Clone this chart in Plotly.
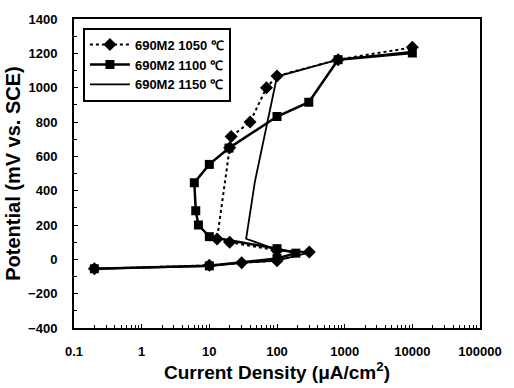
import plotly.graph_objects as go

# Polarization curves of alloy 690M2 at three solution-annealing temperatures
cd_1050 = [0.2, 10, 30, 100, 300, 100, 20, 13, 20, 21, 40, 70, 100, 800, 10000]
pot_1050 = [-55, -35, -20, -8, 42, 52, 100, 118, 650, 715, 800, 1000, 1068, 1163, 1235]

cd_1100 = [0.2, 10, 100, 190, 100, 10, 6.9, 6.3, 6.0, 10, 19.5, 100, 295, 800, 10000]
pot_1100 = [-55, -38, 5, 36, 62, 132, 200, 283, 446, 553, 648, 832, 915, 1163, 1202]

cd_1150 = [0.2, 10, 30, 100, 300, 100, 35, 47, 100, 800, 10000]
pot_1150 = [-55, -40, -20, -8, 40, 55, 120, 450, 1065, 1163, 1210]

names = ["690M2 1050 ℃", "690M2 1100 ℃", "690M2 1150 ℃"]

x_ticks = [0.1, 1, 10, 100, 1000, 10000, 100000]
x_ticktext = ["0.1", "1", "10", "100", "1000", "10000", "100000"]
y_ticks = [-400, -200, 0, 200, 400, 600, 800, 1000, 1200, 1400]

font_family = "Liberation Sans, Arial, sans-serif"

fig = go.Figure()
fig.add_trace(go.Scatter(
    x=cd_1050, y=pot_1050, name=names[0], mode="lines+markers", legendgroup="a",
    line=dict(color="black", width=2, dash="dot"),
    marker=dict(symbol="diamond", size=10, color="black"),
))
fig.add_trace(go.Scatter(
    x=cd_1100, y=pot_1100, name=names[1], mode="lines+markers", legendgroup="b",
    line=dict(color="black", width=2.5),
    marker=dict(symbol="square", size=9, color="black"),
))
fig.add_trace(go.Scatter(
    x=cd_1150, y=pot_1150, name=names[2], mode="lines", legendgroup="c",
    line=dict(color="black", width=1.8),
))

fig.update_layout(
    width=514, height=388,
    margin=dict(l=74, r=26, t=14, b=60),
    paper_bgcolor="white", plot_bgcolor="white",
    font=dict(family=font_family, color="black"),
    showlegend=True,
    legend=dict(
        x=0.022, y=0.972, xanchor="left", yanchor="top",
        bgcolor="white", bordercolor="black", borderwidth=2,
        font=dict(size=13, family=font_family, color="black", weight="bold"),
        itemwidth=40, tracegroupgap=0,
    ),
)

fig.update_xaxes(
    type="log", range=[-1, 5],
    tickvals=x_ticks, ticktext=x_ticktext,
    ticks="inside", ticklen=4, tickwidth=1, tickcolor="black",
    minor=dict(dtick="D1", ticks="inside", ticklen=3, tickcolor="black", showgrid=False),
    showline=True, linecolor="black", linewidth=2, mirror=True,
    showgrid=False, zeroline=False,
    tickfont=dict(size=13, family=font_family, weight="bold"),
    ticklabelstandoff=10,
    title=dict(text="Current Density (μA/cm<sup>2</sup>)",
               font=dict(size=19, family=font_family, weight="bold"),
               standoff=2),
)

fig.update_yaxes(
    range=[-400, 1400],
    tickvals=y_ticks,
    ticks="inside", ticklen=4, tickwidth=1, tickcolor="black",
    minor=dict(dtick=100, ticks="inside", ticklen=3, tickcolor="black", showgrid=False),
    showline=True, linecolor="black", linewidth=2, mirror=True,
    showgrid=False, zeroline=False,
    tickfont=dict(size=13, family=font_family, weight="bold"),
    ticklabelstandoff=12,
    title=dict(text="Potential (mV vs. SCE)",
               font=dict(size=20, family=font_family, weight="bold"),
               standoff=2),
)

fig.write_html("out.html")
